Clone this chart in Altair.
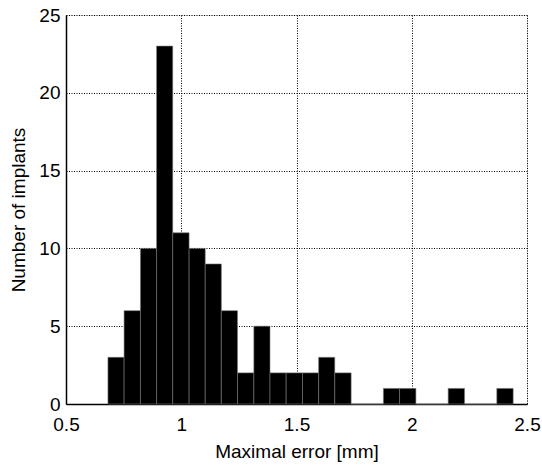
import altair as alt
import pandas as pd

bin_lo = [0.682, 0.752, 0.823, 0.893, 0.963, 1.034, 1.104, 1.174, 1.244, 1.315,
          1.385, 1.455, 1.526, 1.596, 1.666, 1.737, 1.807, 1.877, 1.947, 2.018,
          2.088, 2.158, 2.229, 2.299, 2.369]
bin_hi = [0.752, 0.823, 0.893, 0.963, 1.034, 1.104, 1.174, 1.244, 1.315, 1.385,
          1.455, 1.526, 1.596, 1.666, 1.737, 1.807, 1.877, 1.947, 2.018, 2.088,
          2.158, 2.229, 2.299, 2.369, 2.440]
counts = [3, 6, 10, 23, 11, 10, 9, 6, 2, 5,
          2, 2, 2, 3, 2, 0, 0, 1, 1, 0,
          0, 1, 0, 0, 1]

x_ticks = [0.5, 1, 1.5, 2, 2.5]
y_ticks = [0, 5, 10, 15, 20, 25]

df = pd.DataFrame({"lo": bin_lo, "hi": bin_hi, "n": counts})

FONT = "Liberation Sans"

chart = alt.Chart(df).mark_bar(
    color="black", stroke="#777777", strokeWidth=0.6
).encode(
    x=alt.X("lo:Q",
            scale=alt.Scale(domain=[0.5, 2.5], nice=False, zero=False),
            axis=alt.Axis(values=x_ticks, title="Maximal error [mm]",
                          labelExpr="datum.value == 1 || datum.value == 2 ? format(datum.value, 'd') : format(datum.value, '.1f')",
                          grid=True, gridColor="black", gridDash=[1, 1.5], gridWidth=1,
                          domainColor="black", domainWidth=1.5,
                          ticks=False, labelPadding=11,
                          labelFontSize=19, labelColor="black", labelFont=FONT,
                          titleFontSize=19, titleFont=FONT, titleFontWeight="normal",
                          titleColor="black", titlePadding=8, labelFlush=False)),
    x2="hi:Q",
    y=alt.Y("n:Q",
            scale=alt.Scale(domain=[0, 25], nice=False),
            axis=alt.Axis(values=y_ticks, title="Number of implants",
                          grid=True, gridColor="black", gridDash=[1, 1.5], gridWidth=1,
                          domainColor="black", domainWidth=1.5,
                          ticks=False, labelPadding=6,
                          labelFontSize=19, labelColor="black", labelFont=FONT,
                          titleFontSize=19, titleFont=FONT, titleFontWeight="normal",
                          titleColor="black", titlePadding=10)),
    y2=alt.datum(0),
).properties(
    width=461, height=389,
    padding={"left": 66, "top": 15, "right": 15, "bottom": 63},
    autosize=alt.AutoSizeParams(type="none"),
).configure_view(
    stroke="black", strokeWidth=1.5
).configure(background="white")

chart.save("out.html", embed_options={"renderer": "svg", "actions": False})
